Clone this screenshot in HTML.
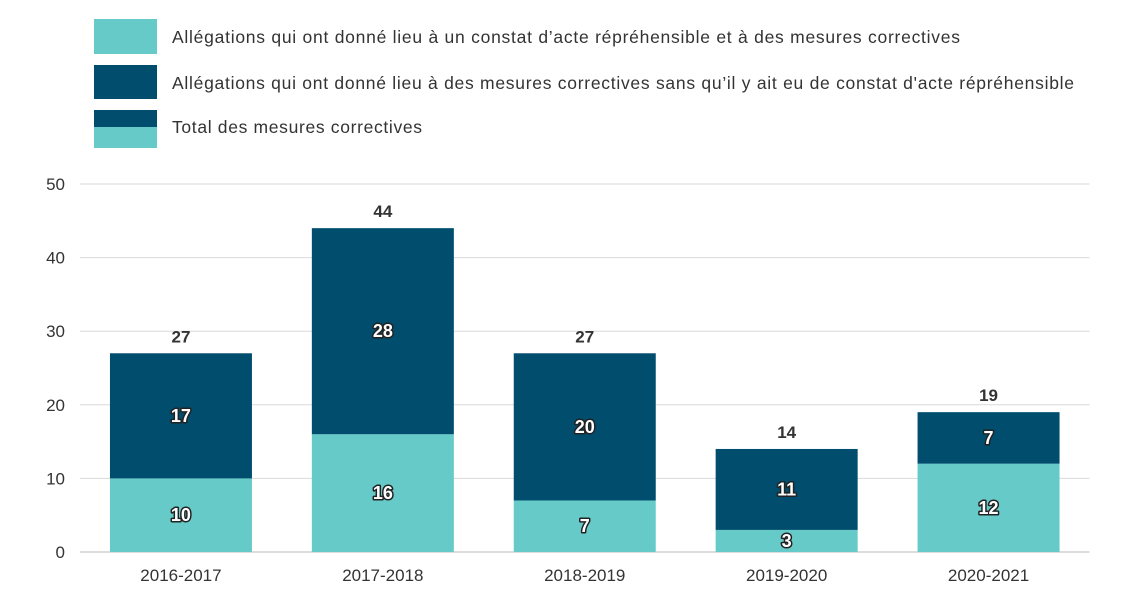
<!DOCTYPE html>
<html><head><meta charset="utf-8">
<style>
body{margin:0;background:#fff;}
svg{display:block;font-family:"Liberation Sans","DejaVu Sans",sans-serif;}
</style></head>
<body>
<svg id="chart" width="1141" height="597">
  <g>
    <rect x="94" y="19" width="63" height="35" fill="#66cbc8"></rect>
    <text x="172" y="43" font-size="17.5" fill="#333" textLength="788" lengthAdjust="spacing">Allégations qui ont donné lieu à un constat d’acte répréhensible et à des mesures correctives</text>
    <rect x="94" y="65" width="63" height="34" fill="#004d6e"></rect>
    <text x="172" y="89" font-size="17.5" fill="#333" textLength="902" lengthAdjust="spacing">Allégations qui ont donné lieu à des mesures correctives sans qu’il y ait eu de constat d'acte répréhensible</text>
    <rect x="94" y="110" width="63" height="17" fill="#004d6e"></rect>
    <rect x="94" y="127" width="63" height="21" fill="#66cbc8"></rect>
    <text x="172" y="133" font-size="17.5" fill="#333" textLength="250" lengthAdjust="spacing">Total des mesures correctives</text>
  </g>
  <g id="grid"></g>
  <g id="bars"></g>
  <g id="labels"></g>
</svg>
<script>
const categories = ["2016-2017","2017-2018","2018-2019","2019-2020","2020-2021"];
const findingValues = [10,16,7,3,12];
const noFindingValues = [17,28,20,11,7];
const yTicks = [0,10,20,30,40,50];

const NS="http://www.w3.org/2000/svg";
const plotL=80, plotR=1089.5, y0=552, yTop=184, yMax=50;
const band=(plotR-plotL)/categories.length, barW=142;
function yScale(v){return y0-(y0-yTop)*v/yMax;}
function xCenter(i){return plotL+band*(i+0.5);}
function mk(tag,attrs,parent){const e=document.createElementNS(NS,tag);for(const k in attrs)e.setAttribute(k,attrs[k]);parent.appendChild(e);return e;}
const grid=document.getElementById('grid'), bars=document.getElementById('bars'), labels=document.getElementById('labels');

yTicks.forEach(t=>{
  const y=yScale(t);
  const l=mk('line',{x1:plotL,x2:plotR,y1:y,y2:y,stroke:t===0?'#bbb':'#d9d9d9','stroke-width':1},grid);
  
  
  const tx=mk('text',{x:65,y:y+6,'text-anchor':'end','font-size':17,fill:'#333'},grid);
  tx.textContent=t;
  
  
});

function inLabel(x,y,val,name){
  const t=mk('text',{x:x,y:y,'text-anchor':'middle','font-size':18,'font-weight':'bold',fill:'#fff',stroke:'#222','stroke-width':3,'paint-order':'stroke','stroke-linejoin':'round'},labels);
  t.textContent=val;
  
  
}

categories.forEach((c,i)=>{
  const cx=xCenter(i), x=cx-barW/2;
  const a=findingValues[i], b=noFindingValues[i], tot=a+b;
  const r1=mk('rect',{x:x,y:yScale(a),width:barW,height:y0-yScale(a),fill:'#66cbc8'},bars);
  
  
  const r2=mk('rect',{x:x,y:yScale(tot),width:barW,height:yScale(a)-yScale(tot),fill:'#004d6e'},bars);
  
  
  inLabel(cx,(yScale(0)+yScale(a))/2+6,a,'value-finding-'+c);
  inLabel(cx,(yScale(a)+yScale(tot))/2+6,b,'value-no-finding-'+c);
  const tt=mk('text',{x:cx,y:yScale(tot)-11,'text-anchor':'middle','font-size':17,'font-weight':'bold',fill:'#333'},labels);
  tt.textContent=tot;
  
  
  const xl=mk('text',{x:cx,y:581,'text-anchor':'middle','font-size':17,fill:'#333'},labels);
  xl.textContent=c;
  
  
});
</script>
</body></html>
